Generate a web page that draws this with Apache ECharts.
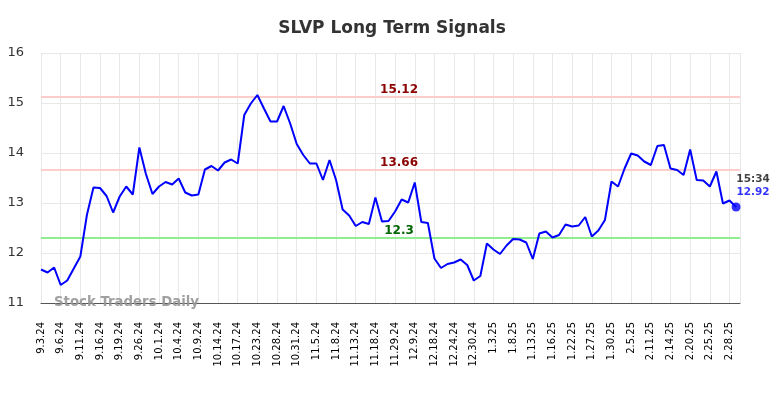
<!DOCTYPE html>
<html>
<head>
<meta charset="utf-8">
<script src="https://cdn.jsdelivr.net/npm/echarts@6/dist/echarts.min.js"></script>
<style>
  html, body { margin: 0; padding: 0; background: #fff; }
  #main { width: 784px; height: 398px; }
</style>
</head>
<body>
<div id="main"></div>
<script>
// trading days shown on the chart, labels on every third one
var dates = [
    '9.3.24', '9.4.24', '9.5.24', '9.6.24', '9.9.24', '9.10.24', '9.11.24', '9.12.24', '9.13.24',
    '9.16.24', '9.17.24', '9.18.24', '9.19.24', '9.20.24', '9.23.24', '9.26.24', '9.27.24', '9.30.24',
    '10.1.24', '10.2.24', '10.3.24', '10.4.24', '10.7.24', '10.8.24', '10.9.24', '10.10.24', '10.11.24',
    '10.14.24', '10.15.24', '10.16.24', '10.17.24', '10.18.24', '10.22.24', '10.23.24', '10.24.24', '10.25.24',
    '10.28.24', '10.29.24', '10.30.24', '10.31.24', '11.1.24', '11.4.24', '11.5.24', '11.6.24', '11.7.24',
    '11.8.24', '11.11.24', '11.12.24', '11.13.24', '11.14.24', '11.15.24', '11.18.24', '11.19.24', '11.27.24',
    '11.29.24', '12.2.24', '12.6.24', '12.9.24', '12.12.24', '12.16.24', '12.18.24', '12.19.24', '12.20.24',
    '12.24.24', '12.26.24', '12.27.24', '12.30.24', '12.31.24', '1.2.25', '1.3.25', '1.6.25', '1.7.25',
    '1.8.25', '1.9.25', '1.10.25', '1.13.25', '1.14.25', '1.15.25', '1.16.25', '1.17.25', '1.21.25',
    '1.22.25', '1.23.25', '1.24.25', '1.27.25', '1.28.25', '1.29.25', '1.30.25', '1.31.25', '2.3.25',
    '2.5.25', '2.6.25', '2.10.25', '2.11.25', '2.12.25', '2.13.25', '2.14.25', '2.18.25', '2.19.25',
    '2.20.25', '2.21.25', '2.24.25', '2.25.25', '2.26.25', '2.27.25', '2.28.25', '3.3.25'
];

var prices = [
    11.67, 11.61, 11.71, 11.36, 11.45, 11.69, 11.93, 12.76, 13.31,
    13.30, 13.14, 12.81, 13.13, 13.33, 13.17, 14.11, 13.58, 13.18,
    13.33, 13.42, 13.37, 13.49, 13.21, 13.15, 13.17, 13.67, 13.74,
    13.65, 13.81, 13.87, 13.79, 14.76, 14.99, 15.16, 14.89, 14.63,
    14.63, 14.94, 14.59, 14.18, 13.96, 13.79, 13.79, 13.46, 13.86,
    13.46, 12.87, 12.75, 12.54, 12.62, 12.58, 13.11, 12.63, 12.64,
    12.83, 13.07, 13.01, 13.41, 12.62, 12.60, 11.89, 11.70, 11.78,
    11.81, 11.87, 11.76, 11.45, 11.54, 12.19, 12.07, 11.98, 12.15,
    12.28, 12.27, 12.21, 11.88, 12.39, 12.43, 12.31, 12.36, 12.57,
    12.53, 12.55, 12.72, 12.33, 12.45, 12.66, 13.43, 13.33, 13.69,
    13.99, 13.95, 13.83, 13.76, 14.14, 14.16, 13.69, 13.66, 13.56,
    14.07, 13.46, 13.45, 13.33, 13.63, 12.99, 13.05, 12.92
];

var resistance = [15.12, 13.66];
var support = [12.3];
var lastTime = '15:34';
var labelAt = 54.6; // x index where the level labels sit

var chart = echarts.init(document.getElementById('main'));

var points = prices.map(function (v, i) { return [i, v]; });
var last = points[points.length - 1];

var levelLines = [];
var levelLabels = [];
resistance.forEach(function (v) {
    levelLines.push({ yAxis: v, lineStyle: { color: '#ffcccc' } });
    levelLabels.push({ coord: [labelAt, v], value: v, label: { color: '#8b0000' } });
});
support.forEach(function (v) {
    levelLines.push({ yAxis: v, lineStyle: { color: '#90ee90' } });
    levelLabels.push({ coord: [labelAt, v], value: v, label: { color: '#006400' } });
});

var option = {
    animation: false,
    title: {
        text: 'SLVP Long Term Signals',
        left: 'center',
        top: 15,
        textStyle: { fontFamily: 'DejaVu Sans', fontSize: 17, fontWeight: 'bold', color: '#333' }
    },
    grid: { left: 41, right: 44, top: 53, bottom: 95 },
    xAxis: {
        type: 'value',
        min: 0,
        max: 106.6,
        interval: 3,
        axisLine: { show: true, onZero: false, lineStyle: { color: '#555', width: 1 } },
        axisTick: { show: false },
        splitLine: { show: true, lineStyle: { color: '#e8e8e8', width: 1 } },
        axisLabel: {
            rotate: 90,
            margin: 19,
            fontFamily: 'DejaVu Sans',
            fontSize: 10,
            color: '#000',
            showMaxLabel: false,
            formatter: function (v) { return dates[v] || ''; }
        }
    },
    yAxis: {
        type: 'value',
        min: 11,
        max: 16,
        interval: 1,
        axisLine: { show: false },
        axisTick: { show: false },
        splitLine: { show: true, lineStyle: { color: '#e8e8e8', width: 1 } },
        axisLabel: { margin: 17, padding: [3, 0, 0, 0], fontFamily: 'DejaVu Sans', fontSize: 13, color: '#333' }
    },
    graphic: [{
        type: 'text',
        left: 54,
        top: 296,
        z: 10,
        style: {
            text: 'Stock Traders Daily',
            font: 'bold 13.3px "DejaVu Sans"',
            fill: 'rgba(150,150,150,0.9)'
        }
    }],
    series: [{
        type: 'line',
        data: points,
        showSymbol: false,
        lineStyle: { color: '#0000ff', width: 2 },
        itemStyle: { color: '#0000ff' },
        z: 3,
        markLine: {
            silent: true,
            symbol: 'none',
            label: { show: false },
            lineStyle: { type: 'solid', width: 2 },
            z: 1,
            data: levelLines
        },
        markPoint: {
            symbol: 'circle',
            symbolSize: 0,
            label: {
                show: true,
                offset: [0, -7],
                fontFamily: 'DejaVu Sans',
                fontSize: 12,
                fontWeight: 'bold',
                formatter: function (p) { return String(p.value); }
            },
            data: levelLabels
        }
    }, {
        type: 'scatter',
        data: [last],
        symbolSize: 9,
        itemStyle: { color: '#0000ff' },
        z: 4,
        label: {
            show: true,
            position: 'top',
            distance: 4,
            offset: [17, 0],
            fontFamily: 'DejaVu Sans',
            fontSize: 10.5,
            fontWeight: 'bold',
            lineHeight: 13,
            formatter: function (p) { return '{t|' + lastTime + '}\n{v|' + p.value[1] + '}'; },
            rich: {
                t: { color: '#111', fontFamily: 'DejaVu Sans', fontSize: 10.5, fontWeight: 'bold', lineHeight: 13 },
                v: { color: '#0000ff', fontFamily: 'DejaVu Sans', fontSize: 10.5, fontWeight: 'bold', lineHeight: 13 }
            }
        }
    }]
};

chart.setOption(option);
</script>
</body>
</html>
